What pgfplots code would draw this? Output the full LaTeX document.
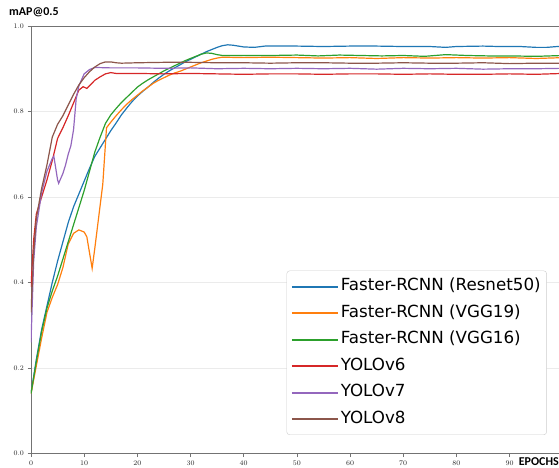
\documentclass[border=0pt]{standalone}
\usepackage{pgfplots}
\pgfplotsset{compat=1.18}
\usepackage{pgfplotstable}
\usepackage{fontspec}
\setmainfont{DejaVu Sans}
\newfontfamily\carlito{Carlito}
\definecolor{tabblue}{HTML}{1F77B4}
\definecolor{taborange}{HTML}{FF7F0E}
\definecolor{tabgreen}{HTML}{2CA02C}
\definecolor{tabred}{HTML}{D62728}
\definecolor{tabpurple}{HTML}{9467BD}
\definecolor{tabbrown}{HTML}{8C564B}

\pgfplotstableread{
x y
0 0.14
1 0.22
2 0.29
3 0.345
4 0.40
5 0.45
6 0.495
7 0.54
8 0.577
9 0.607
10 0.637
11 0.667
12 0.695
13 0.715
14 0.735
15 0.755
16 0.773
17 0.792
18 0.808
19 0.823
20 0.836
21 0.847
22 0.857
23 0.868
24 0.878
25 0.887
26 0.895
27 0.902
28 0.909
29 0.916
30 0.922
31 0.928
32 0.934
33 0.940
34 0.945
35 0.950
36 0.954
37 0.956
38 0.955
39 0.953
40 0.951
42 0.950
44 0.953
46 0.953
50 0.953
55 0.952
60 0.953
65 0.953
70 0.952
75 0.952
78 0.950
80 0.952
85 0.953
88 0.952
92 0.952
95 0.950
97 0.950
100 0.953
}\resnet

\pgfplotstableread{
x y
0 0.14
1 0.205
2 0.27
3 0.33
4 0.365
5 0.395
6 0.435
7 0.49
8 0.515
9 0.523
10 0.518
10.5 0.507
11 0.47
11.5 0.433
12 0.48
13 0.58
13.5 0.63
14.2 0.762
15 0.775
16 0.79
17 0.804
18 0.817
19 0.828
20 0.838
21 0.848
22 0.857
23 0.866
24 0.873
25 0.879
26 0.885
27 0.890
28 0.894
29 0.899
30 0.904
31 0.909
32 0.914
33 0.918
34 0.922
35 0.925
36 0.927
40 0.926
45 0.927
50 0.926
55 0.925
60 0.926
65 0.924
70 0.926
75 0.925
80 0.926
85 0.925
90 0.926
95 0.924
100 0.926
}\vggnineteen

\pgfplotstableread{
x y
0 0.14
1 0.215
2 0.285
3 0.34
4 0.38
5 0.415
6 0.455
7 0.495
8 0.535
9 0.575
10 0.615
11 0.66
12 0.705
13 0.74
14 0.772
15 0.792
16 0.807
17 0.821
18 0.833
19 0.845
20 0.857
21 0.866
22 0.874
23 0.881
24 0.888
25 0.895
26 0.901
27 0.907
28 0.913
29 0.919
30 0.924
31 0.929
32 0.934
33 0.937
34 0.936
35 0.933
36 0.931
40 0.931
45 0.931
50 0.932
54 0.930
58 0.932
62 0.931
66 0.930
70 0.931
74 0.929
78 0.933
82 0.931
86 0.930
90 0.930
95 0.929
100 0.931
}\vggsixteen

\pgfplotstableread{
x y
0 0.39
0.5 0.50
1 0.56
2 0.60
3 0.64
4 0.685
5 0.737
6 0.762
7 0.79
8 0.82
9 0.85
9.8 0.858
10.5 0.854
11 0.86
12 0.873
13 0.881
14 0.888
15 0.891
16 0.889
20 0.889
25 0.888
30 0.889
35 0.888
40 0.887
45 0.888
50 0.888
55 0.887
60 0.888
65 0.888
70 0.887
75 0.888
80 0.887
85 0.887
90 0.888
95 0.887
100 0.889
}\yolosix

\pgfplotstableread{
x y
0 0.26
0.5 0.45
1 0.53
2 0.61
3 0.66
4 0.69
4.3 0.695
5 0.64
5.2 0.632
6 0.655
6.5 0.675
7 0.70
7.5 0.72
8 0.757
8.5 0.83
9 0.86
10 0.888
11 0.898
12 0.903
15 0.902
20 0.902
25 0.901
30 0.902
35 0.900
40 0.901
45 0.900
50 0.901
55 0.900
60 0.901
65 0.899
70 0.901
75 0.900
80 0.901
85 0.899
90 0.900
95 0.900
100 0.901
}\yoloseven

\pgfplotstableread{
x y
0 0.33
0.5 0.47
1 0.55
2 0.62
3 0.675
4 0.74
5 0.77
6 0.79
7 0.815
8 0.84
9 0.862
10 0.879
11 0.893
12 0.904
13 0.912
14 0.916
15 0.916
16 0.914
17 0.913
20 0.914
25 0.915
30 0.915
35 0.914
40 0.914
45 0.913
50 0.914
55 0.914
60 0.913
65 0.913
70 0.914
75 0.913
80 0.913
85 0.914
90 0.912
95 0.913
100 0.913
}\yoloeight

\begin{document}
\begin{tikzpicture}
\begin{axis}[
  name=ax,
  scale only axis,
  width=528pt, height=427.5pt,
  xmin=0, xmax=99.3,
  ymin=0, ymax=1,
  axis x line*=box,
  axis y line*=left,
  axis line style={black!55, line width=0.9pt},
  xtick={0,10,...,90},
  ytick={0,0.2,...,1.0},
  xtick pos=left,
  ytick pos=left,
  tick align=outside,
  major tick length=3.5pt,
  tick style={black!55, line width=0.6pt},
  ymajorgrids,
  grid style={black!8, line width=0.6pt},
  ticklabel style={font=\fontsize{7}{8}\selectfont, text=black!85},
  yticklabel style={/pgf/number format/fixed, /pgf/number format/fixed zerofill, /pgf/number format/precision=1},
  legend cell align=left,
  legend style={
    at={(0.977,0.0433)}, anchor=south east,
    draw=black!20, rounded corners=3pt, fill=white,
    font=\fontsize{16.7}{19}\selectfont,
    nodes={text height=12pt, text depth=3.5pt, inner sep=2pt},
    row sep=7pt,
    inner xsep=4pt, inner ysep=6pt,
  },
  legend image code/.code={\draw[#1, line width=2pt] (-8pt,0pt) -- (38pt,0pt);},
  every axis plot/.append style={line width=1.2pt},
]
\addplot[tabblue] table {\resnet};
\addlegendentry{Faster-RCNN (Resnet50)}
\addplot[taborange] table {\vggnineteen};
\addlegendentry{Faster-RCNN (VGG19)}
\addplot[tabgreen] table {\vggsixteen};
\addlegendentry{Faster-RCNN (VGG16)}
\addplot[tabred] table {\yolosix};
\addlegendentry{YOLOv6}
\addplot[tabpurple] table {\yoloseven};
\addlegendentry{YOLOv7}
\addplot[tabbrown] table {\yoloeight};
\addlegendentry{YOLOv8}
\end{axis}
\node[anchor=west, inner sep=0pt, font=\carlito\bfseries\fontsize{12}{14}\selectfont] at ([xshift=-22pt, yshift=14pt]ax.north west) {mAP@0.5};
\node[anchor=east, inner sep=0pt, font=\carlito\bfseries\fontsize{12}{14}\selectfont] at ([yshift=-8.5pt]ax.south east) {EPOCHS};
\pgfresetboundingbox
\path[use as bounding box] ([xshift=-31pt, yshift=-14.5pt]ax.south west) rectangle ([yshift=26pt]ax.north east);
\end{tikzpicture}
\end{document}
